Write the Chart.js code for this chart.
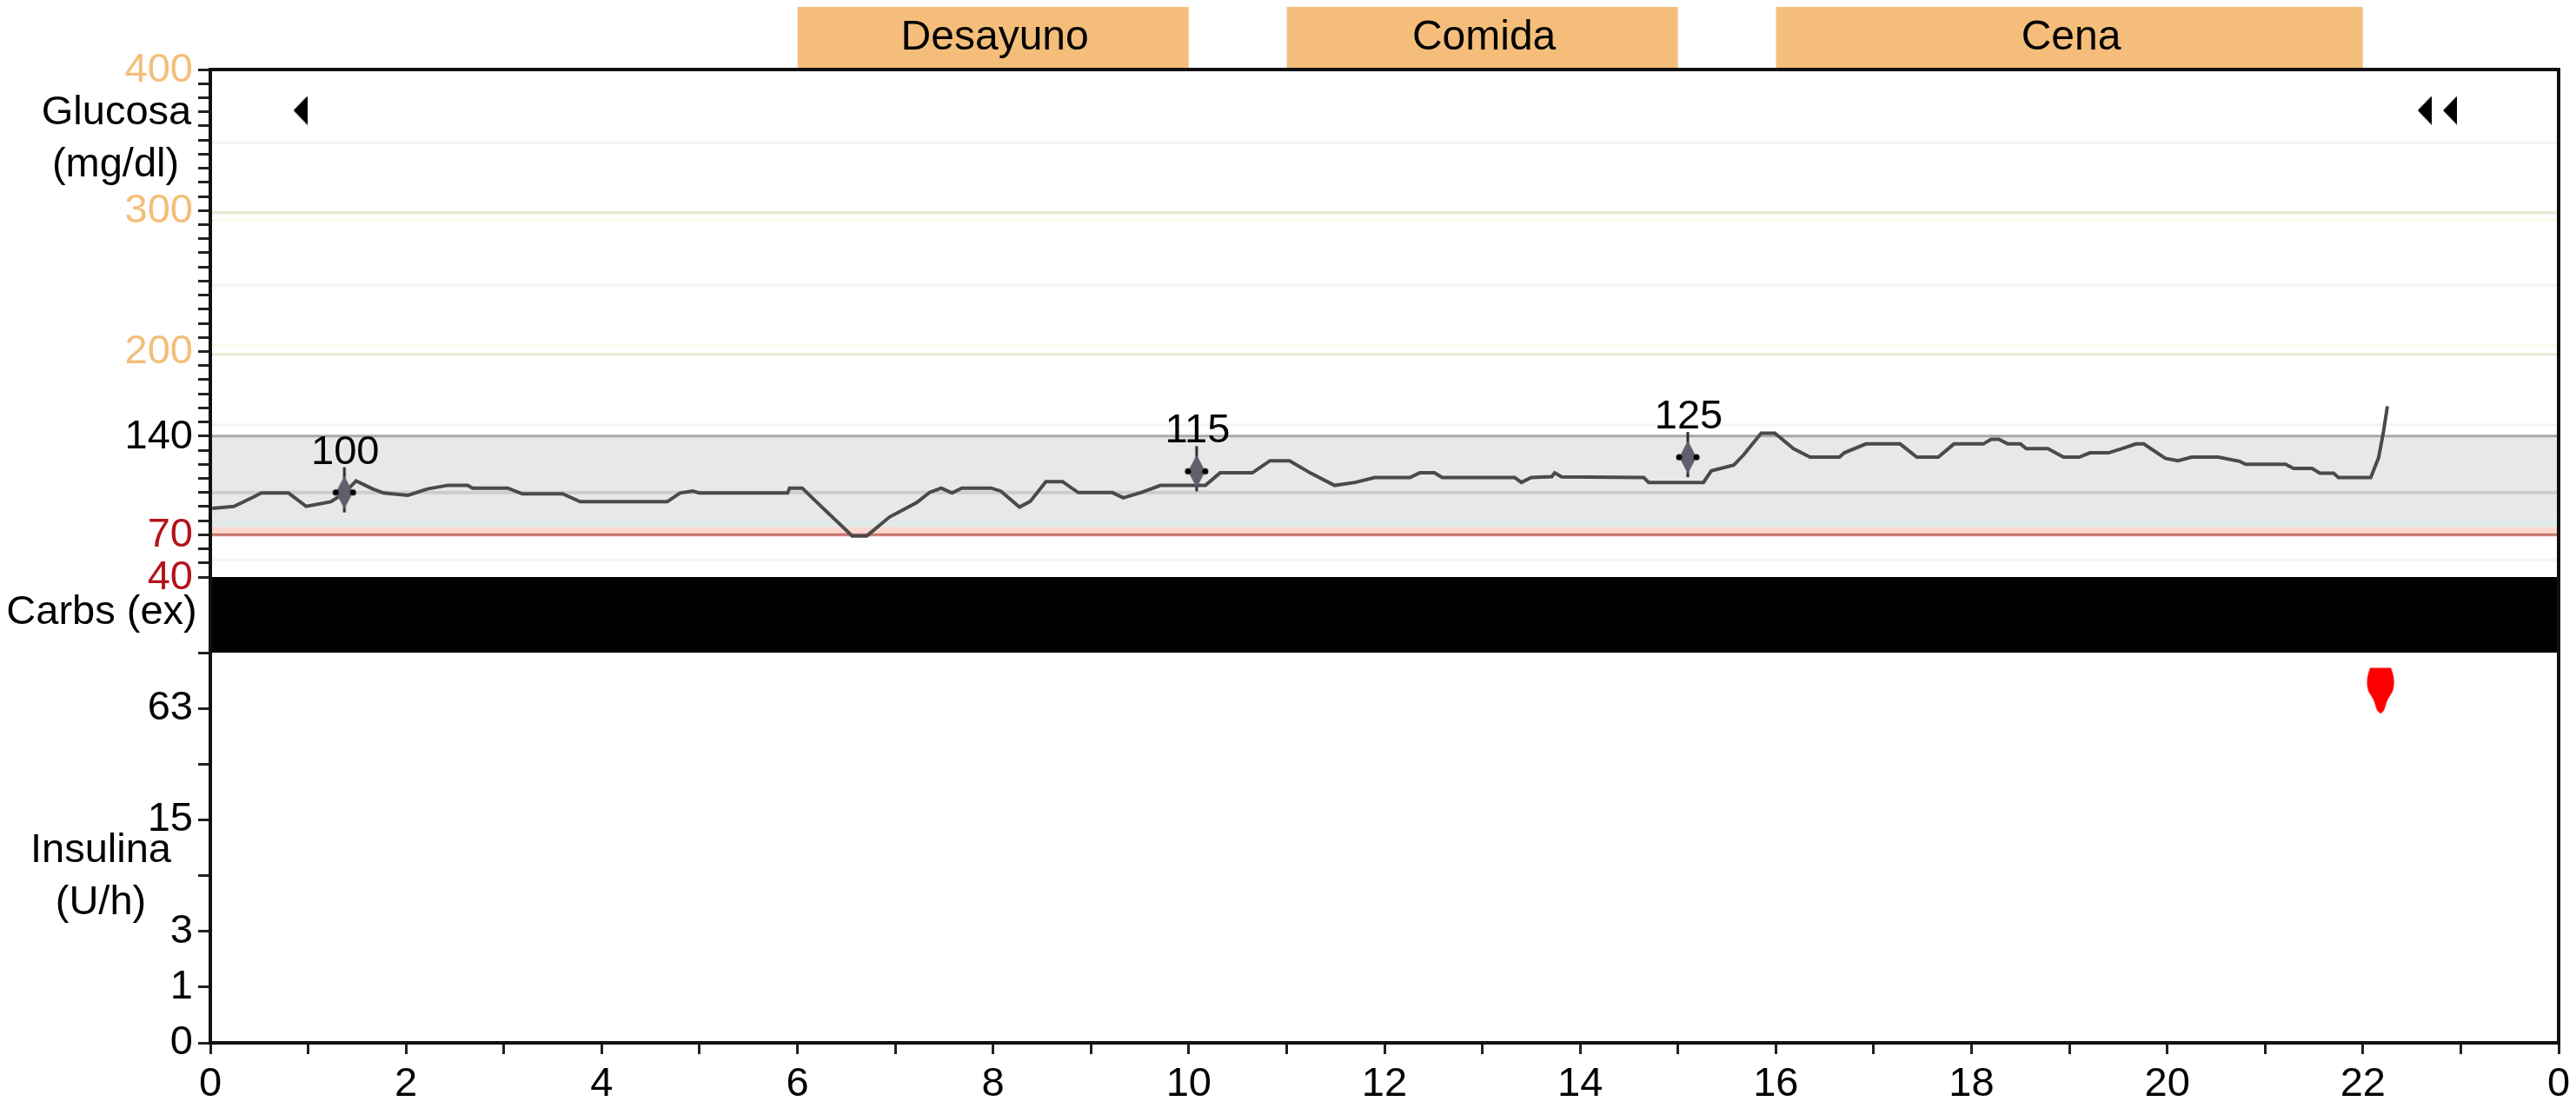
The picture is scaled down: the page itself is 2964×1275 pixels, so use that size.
<!DOCTYPE html>
<html lang="en">
<head>
<meta charset="UTF-8">
<script src="https://cdn.jsdelivr.net/npm/chart.js"></script>
<title>Glucosa</title>
<style>
    html, body { margin: 0; padding: 0; background: #fff; }
    canvas { display: block; }
</style>
</head>
<body>
<canvas id="glucoseChart" width="2964" height="1275"></canvas>

<script>
    // values
    var sensorHours = [0.02, 0.24, 0.44, 0.52, 0.80, 0.98, 1.23, 1.36, 1.49, 1.66, 1.77, 2.02, 2.22, 2.43, 2.63, 2.68, 3.04, 3.19, 3.60, 3.78, 4.67, 4.80, 4.93, 5.00, 5.90, 5.92, 6.05, 6.17, 6.56, 6.71, 6.94, 7.22, 7.35, 7.47, 7.58, 7.68, 7.98, 8.08, 8.27, 8.38, 8.54, 8.71, 8.87, 9.22, 9.33, 9.53, 9.71, 10.17, 10.32, 10.65, 10.83, 11.03, 11.24, 11.49, 11.70, 11.90, 12.26, 12.36, 12.51, 12.59, 13.33, 13.40, 13.50, 13.71, 13.74, 13.81, 14.65, 14.70, 15.26, 15.34, 15.57, 15.67, 15.85, 15.99, 16.18, 16.35, 16.65, 16.70, 16.92, 17.27, 17.44, 17.66, 17.82, 18.12, 18.20, 18.28, 18.37, 18.50, 18.56, 18.78, 18.94, 19.10, 19.21, 19.40, 19.54, 19.68, 19.76, 19.98, 20.11, 20.25, 20.52, 20.74, 20.80, 21.21, 21.29, 21.48, 21.56, 21.70, 21.75, 22.08, 22.16, 22.21, 22.25];
    var sensorValues = [88.7, 90.1, 96.7, 99.6, 99.6, 90.1, 93.4, 99, 108.2, 102.5, 99.6, 98, 102.5, 105.1, 105.1, 103.1, 103.1, 99, 99, 93.4, 93.4, 99.6, 101, 99.6, 99.6, 103.1, 103.1, 94.9, 69.2, 69.2, 82.5, 92.8, 100, 103.1, 99.6, 103.1, 103.1, 100.9, 89.6, 93.7, 107.7, 107.7, 99.9, 99.9, 96.2, 100.3, 105, 105, 113.9, 113.9, 122.5, 122.5, 113.9, 105, 107.1, 110.6, 110.6, 113.9, 113.9, 110.6, 110.6, 107.1, 110.6, 111.2, 113.9, 111, 110.6, 107.1, 107.1, 115.3, 119.4, 126.6, 142, 142, 131.1, 125, 125, 128.1, 134.4, 134.4, 125, 125, 134.4, 134.4, 137.7, 137.7, 134.4, 134.4, 131.1, 131.1, 125, 125, 128.1, 128.1, 131.1, 134.4, 134.4, 124.2, 122.5, 125, 125, 122.1, 120, 120, 117, 117, 113.7, 113.7, 110.6, 110.6, 124.6, 143.1, 161.1];

    var meterHours = [1.37, 10.08, 15.10];
    var meterValues = [100, 115, 125];

    var arrowHours = [0.92, 22.63, 22.89];
    var arrowValues = [371, 371, 371];

    var mealNames = ['Desayuno', 'Comida', 'Cena'];
    var mealStart = [6, 11, 16];
    var mealEnd = [10, 15, 22];

    var bolusHours = [22.18];
    var bolusUnits = [79];

    var glucoseLabels = [400, 300, 200, 140, 70, 40];
    var glucoseRed = [70, 40];
    var glucoseOrange = [400, 300, 200];
    var insulinLabels = ['0', '1', '3', '', '15', '', '63', ''];

    var yellowLevels = [298.5, 198];
    var paleYellowLevels = [293, 204];
    var faintLevels = [348, 247, 148, 52];

    var FONT = '"Liberation Sans", Arial, sans-serif';
    var ORANGE = '#f4be7a';
    var RED = '#b5121b';

    Chart.defaults.font.family = FONT;
    Chart.defaults.font.size = 47;
    Chart.defaults.color = '#000';

    function toPoints(xs, ys) {
        return xs.map(function (x, i) { return { x: x, y: ys[i] }; });
    }

    // full width horizontal line in a panel
    function level(value, color, width, axis, fill, fillColor) {
        return {
            type: 'line',
            yAxisID: axis || 'glucose',
            data: [{ x: 0, y: value }, { x: 24, y: value }],
            borderColor: color,
            borderWidth: width,
            backgroundColor: fillColor,
            pointRadius: 0,
            fill: fill || false
        };
    }

    function glyph(w, h, draw) {
        var c = document.createElement('canvas');
        c.width = w;
        c.height = h;
        draw(c.getContext('2d'));
        return c;
    }

    var arrowGlyph = glyph(16, 33, function (g) {
        g.fillStyle = '#000';
        g.beginPath();
        g.moveTo(0, 16.5);
        g.lineTo(16, 0);
        g.lineTo(16, 33);
        g.closePath();
        g.fill();
    });

    // centre of the 30x70 glyph is the reading
    var meterGlyph = glyph(30, 70, function (g) {
        g.fillStyle = '#2a2a2a';
        g.fillRect(13.5, 6, 3, 52);
        g.fillStyle = '#60606c';
        g.beginPath();
        g.moveTo(15, 16);
        g.lineTo(25, 35);
        g.lineTo(15, 54);
        g.lineTo(5, 35);
        g.closePath();
        g.fill();
        g.fillStyle = '#000';
        g.beginPath();
        g.arc(5, 35, 3.5, 0, 2 * Math.PI);
        g.arc(25, 35, 3.5, 0, 2 * Math.PI);
        g.fill();
    });

    var dropGlyph = glyph(34, 54, function (g) {
        g.fillStyle = '#ff0000';
        g.beginPath();
        g.moveTo(5, 1);
        g.lineTo(29, 1);
        g.quadraticCurveTo(35, 16, 31, 28);
        g.lineTo(25, 38);
        g.lineTo(21, 50);
        g.lineTo(17, 54);
        g.lineTo(13, 50);
        g.lineTo(9, 38);
        g.lineTo(3, 28);
        g.quadraticCurveTo(-1, 16, 5, 1);
        g.closePath();
        g.fill();
    });

    var datasets = [
        {
            type: 'scatter', label: 'meter', yAxisID: 'glucose',
            data: toPoints(meterHours, meterValues),
            pointStyle: meterGlyph, pointRadius: 12
        },
        {
            type: 'scatter', label: 'arrows', yAxisID: 'glucose',
            data: toPoints(arrowHours, arrowValues),
            pointStyle: arrowGlyph, pointRadius: 12
        },
        {
            type: 'scatter', label: 'bolus', yAxisID: 'insulin',
            data: toPoints(bolusHours, bolusUnits.map(function (u) { return Math.log2(u + 1); })),
            pointStyle: dropGlyph, pointRadius: 12
        },
        {
            type: 'line', label: 'sensor', yAxisID: 'glucose',
            data: toPoints(sensorHours, sensorValues),
            borderColor: '#4a4a4a', borderWidth: 4, pointRadius: 0, tension: 0
        },
        level(70, '#c4746a', 3),
        level(100, '#cdcdcd', 4),
        level(140, '#a8a8a8', 3, 'glucose', { target: { value: 82 }, above: '#e8e8e8' }),
        level(82, 'rgba(0,0,0,0)', 0, 'glucose', { target: { value: 75.5 }, above: '#e3eaeb' }),
        level(75.5, 'rgba(0,0,0,0)', 0, 'glucose', { target: { value: 68.5 }, above: '#fbd8cf' }),
        level(1, '#000', 0, 'carbs', 'start', '#000')
    ];

    yellowLevels.forEach(function (v) { datasets.push(level(v, '#e9e9cf', 3)); });
    paleYellowLevels.forEach(function (v) { datasets.push(level(v, '#f9f8ec', 3)); });
    faintLevels.forEach(function (v) { datasets.push(level(v, '#f4f4f4', 3)); });

    mealNames.forEach(function (name, i) {
        datasets.push({
            type: 'line', label: name, yAxisID: 'meals',
            data: [{ x: mealStart[i], y: 1 }, { x: mealEnd[i], y: 1 }],
            borderWidth: 0, pointRadius: 0, backgroundColor: ORANGE, fill: 'start'
        });
    });

    function noPad(width) {
        return function (scale) {
            scale.width = width;
            scale.paddingTop = 0;
            scale.paddingBottom = 0;
        };
    }

    var tickGrid = { drawOnChartArea: false, tickLength: 14, tickWidth: 3, tickColor: '#222' };

    var textPlugin = {
        id: 'chartText',
        afterDraw: function (chart) {
            var ctx = chart.ctx;
            var x = chart.scales.x;
            var glucose = chart.scales.glucose;
            var insulin = chart.scales.insulin;

            // frame of the plot, the meal boxes stay outside it
            ctx.save();
            ctx.strokeStyle = '#111';
            ctx.lineWidth = 4;
            ctx.strokeRect(x.left, glucose.top, x.right - x.left, insulin.bottom - glucose.top);

            ctx.fillStyle = '#000';
            ctx.textAlign = 'center';
            ctx.textBaseline = 'middle';
            ctx.font = '48px ' + FONT;

            mealNames.forEach(function (name, i) {
                ctx.fillText(name, x.getPixelForValue((mealStart[i] + mealEnd[i]) / 2) + 2, chart.scales.meals.getPixelForValue(0.5));
            });

            ctx.font = '47px ' + FONT;

            // number above each meter reading
            chart.getDatasetMeta(0).data.forEach(function (pt, i) {
                ctx.fillText(String(meterValues[i]), pt.x + 1, pt.y - 46);
            });

            // panel titles
            ctx.fillText('Glucosa', 134, 130);
            ctx.fillText('(mg/dl)', 133, 190);
            ctx.fillText('Carbs (ex)', 117, 705);
            ctx.fillText('Insulina', 116, 979);
            ctx.fillText('(U/h)', 116, 1039);
            ctx.restore();
        }
    };

    new Chart(document.getElementById('glucoseChart').getContext('2d'), {
        data: { datasets: datasets },
        plugins: [textPlugin],
        options: {
            responsive: false,
            animation: false,
            layout: { autoPadding: false, padding: { left: 0, top: 8, right: 20, bottom: 0 } },
            plugins: { legend: { display: false }, tooltip: { enabled: false } },
            scales: {
                x: {
                    type: 'linear',
                    min: 0,
                    max: 24,
                    border: { display: false },
                    grid: { drawOnChartArea: false, tickLength: 13, tickWidth: 3, tickColor: '#222' },
                    ticks: {
                        stepSize: 1,
                        autoSkip: false,
                        maxRotation: 0,
                        padding: 7,
                        callback: function (v) { return v % 2 ? '' : String(v % 24); }
                    },
                    afterFit: function (scale) {
                        scale.height = 75;
                        scale.paddingLeft = 0;
                        scale.paddingRight = 0;
                    }
                },
                insulin: {
                    type: 'linear',
                    position: 'left',
                    stack: 'panels',
                    stackWeight: 449,
                    min: 0,
                    max: 7,
                    border: { display: false },
                    grid: tickGrid,
                    ticks: {
                        stepSize: 1,
                        autoSkip: false,
                        padding: 6,
                        callback: function (v) { return insulinLabels[v]; }
                    },
                    afterFit: noPad(242)
                },
                carbs: {
                    type: 'linear',
                    position: 'left',
                    stack: 'panels',
                    stackWeight: 87,
                    min: 0,
                    max: 1,
                    border: { display: false },
                    grid: { display: false },
                    ticks: { display: false },
                    afterFit: noPad(242)
                },
                glucose: {
                    type: 'linear',
                    position: 'left',
                    stack: 'panels',
                    stackWeight: 584,
                    min: 40,
                    max: 400,
                    border: { display: false },
                    grid: tickGrid,
                    ticks: {
                        stepSize: 10,
                        autoSkip: false,
                        padding: 6,
                        labelOffset: 1,
                        color: function (c) {
                            if (glucoseRed.indexOf(c.tick.value) >= 0) return RED;
                            if (glucoseOrange.indexOf(c.tick.value) >= 0) return ORANGE;
                            return '#000';
                        },
                        callback: function (v) { return glucoseLabels.indexOf(v) >= 0 ? String(v) : ''; }
                    },
                    afterFit: noPad(242)
                },
                meals: {
                    type: 'linear',
                    position: 'left',
                    stack: 'panels',
                    stackWeight: 72,
                    min: 0,
                    max: 1,
                    border: { display: false },
                    grid: { display: false },
                    ticks: { display: false },
                    afterFit: noPad(242)
                }
            }
        }
    });
</script>
</body>
</html>
